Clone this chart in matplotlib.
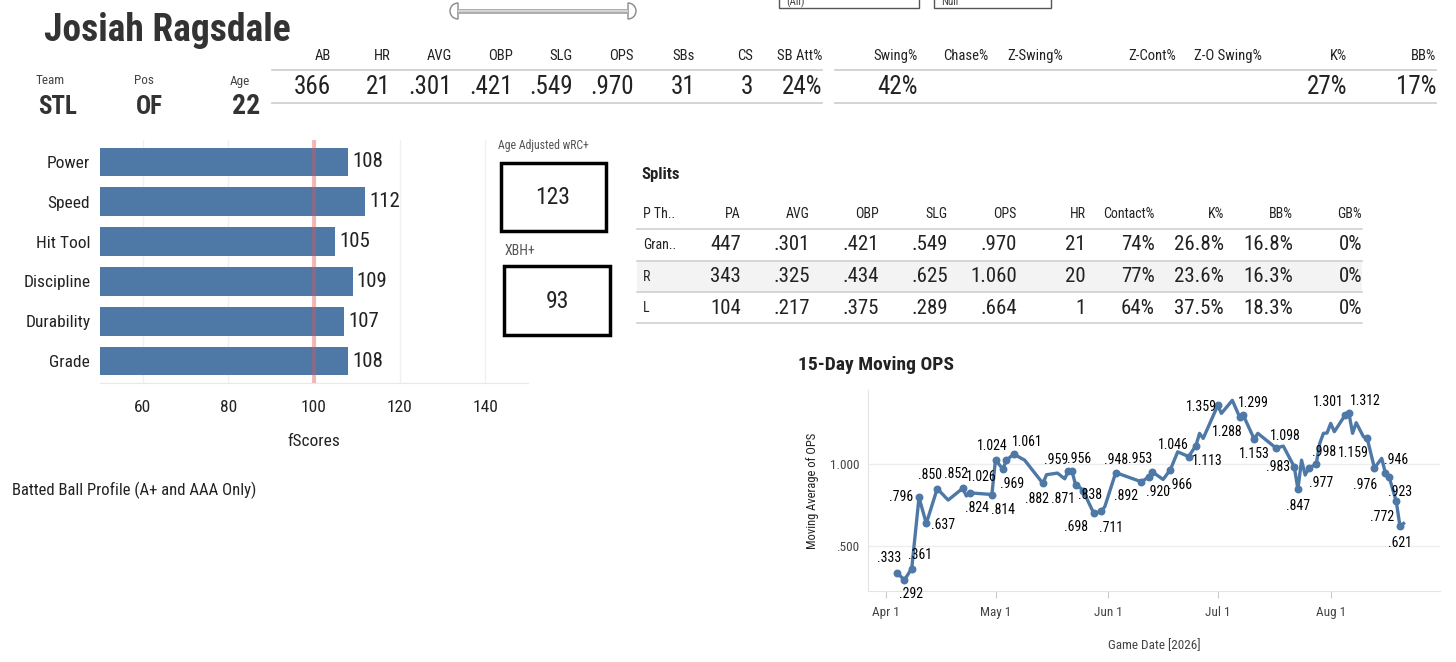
import matplotlib
matplotlib.use("Agg")
import matplotlib.pyplot as plt
import matplotlib.dates as mdates
from matplotlib import font_manager as fm
from matplotlib.patches import Rectangle, Wedge
import datetime as dt

# ------------------------------------------------------------
# Data
# ------------------------------------------------------------
player = "Josiah Ragsdale"
team, position, age = "STL", "OF", "22"

stat_cols = ["AB", "HR", "AVG", "OBP", "SLG", "OPS", "SBs", "CS", "SB Att%"]
stat_vals = ["366", "21", ".301", ".421", ".549", ".970", "31", "3", "24%"]

disc_cols = ["Swing%", "Chase%", "Z-Swing%", "Z-Cont%", "Z-O Swing%", "K%", "BB%"]
disc_vals = ["42%", "", "", "", "", "27%", "17%"]

tools = ["Power", "Speed", "Hit Tool", "Discipline", "Durability", "Grade"]
fscores = [108, 112, 105, 109, 107, 108]

age_adj_wrc = 123
xbh_plus = 93

split_cols = ["P Th..", "PA", "AVG", "OBP", "SLG", "OPS", "HR", "Contact%", "K%", "BB%", "GB%"]
split_hand = ["Gran..", "R", "L"]
split_pa = ["447", "343", "104"]
split_avg = [".301", ".325", ".217"]
split_obp = [".421", ".434", ".375"]
split_slg = [".549", ".625", ".289"]
split_ops = [".970", "1.060", ".664"]
split_hr = ["21", "20", "1"]
split_contact = ["74%", "77%", "64%"]
split_k = ["26.8%", "23.6%", "37.5%"]
split_bb = ["16.8%", "16.3%", "18.3%"]
split_gb = ["0%", "0%", "0%"]

# 15-day moving OPS (2026), estimated off the chart
game_dates = ["04-04", "04-06", "04-08", "04-10", "04-12", "04-15", "04-18", "04-22",
              "04-23", "04-24", "04-30", "05-01", "05-03", "05-04", "05-06", "05-09",
              "05-14", "05-15", "05-18", "05-20", "05-21", "05-22", "05-23", "05-24",
              "05-25", "05-28", "05-30", "05-31", "06-03", "06-10", "06-12", "06-13",
              "06-16", "06-18", "06-20", "06-23", "06-25", "06-26", "06-27", "07-01",
              "07-02", "07-05", "07-07", "07-08", "07-11", "07-12", "07-17", "07-19",
              "07-22", "07-23", "07-24", "07-25", "07-26", "07-28", "07-29", "07-30",
              "07-31", "08-01", "08-02", "08-05", "08-06", "08-07", "08-08", "08-10",
              "08-11", "08-13", "08-15", "08-16", "08-17", "08-19", "08-20", "08-21"]
moving_ops = [0.333, 0.292, 0.361, 0.796, 0.637, 0.850, 0.780, 0.852,
              0.805, 0.824, 0.814, 1.026, 0.969, 1.024, 1.061, 1.024,
              0.882, 0.935, 0.945, 0.910, 0.959, 0.956, 0.871, 0.860,
              0.838, 0.698, 0.711, 0.740, 0.948, 0.892, 0.920, 0.953,
              0.906, 0.966, 1.075, 1.046, 1.113, 1.188, 1.157, 1.359,
              1.310, 1.390, 1.288, 1.299, 1.153, 1.188, 1.098, 1.110,
              0.983, 0.847, 1.024, 0.933, 0.977, 0.998, 1.127, 1.188,
              1.190, 1.249, 1.198, 1.301, 1.312, 1.188, 1.253, 1.167,
              1.159, 0.976, 1.035, 0.946, 0.923, 0.772, 0.621, 0.637]
labeled = [1, 1, 1, 1, 1, 1, 0, 1,
           0, 1, 1, 1, 1, 1, 1, 0,
           1, 0, 0, 0, 1, 1, 1, 0,
           1, 1, 1, 0, 1, 1, 1, 1,
           0, 1, 0, 1, 1, 0, 0, 1,
           0, 0, 1, 1, 1, 0, 1, 0,
           1, 1, 0, 0, 1, 1, 0, 0,
           0, 0, 0, 1, 1, 0, 0, 0,
           1, 1, 0, 1, 1, 1, 1, 0]

# where each shown label sits relative to its point (offsets in points)
label_offsets = [
    (-6, 11), (5, -10), (6, 10), (-13, 0), (12, -1), (-5, 10), (-5, 10),   # .333 .. .852
    (5, -11), (8, -11), (-10, -12), (7, -11), (-10, 10), (10, 9),         # .824 .. 1.061
    (-4, -11), (-9, 8), (5, 9), (-9, -10),                                # .882 .. .871
    (5, -3), (-13, -10), (7, -12), (0, 9), (-11, -10), (7, -11), (-9, 9), # .838 .. .953
    (7, -11), (-11, 8), (8, -11), (-12, -1),                              # .966 .. 1.359
    (-9, -11), (7, 9), (0, -11), (7, 9),                                  # 1.288 .. 1.098
    (-12, 0), (0, -12), (9, -11), (6, 9),                                 # .983 .. .998
    (-12, 9), (12, 9),                                                    # 1.301 1.312
    (-10, -11), (-7, -12), (8, 9), (8, -11), (-10, -11), (0, -12),        # 1.159 .. .621
]

# ------------------------------------------------------------
# Style
# ------------------------------------------------------------
avail = {f.name for f in fm.fontManager.ttflist}
FONT = "DejaVu Sans"
for cand in ["Roboto Condensed", "Liberation Sans Narrow", "DejaVu Sans"]:
    if cand in avail:
        FONT = cand
        break
plt.rcParams["font.family"] = [FONT, "DejaVu Sans"]

BLUE = "#4e79a7"
TXT = "#222222"
GRID = "#e8e8e8"
W, H = 1456, 662

fig = plt.figure(figsize=(W / 100, H / 100), dpi=100)

# overlay axes in pixel coordinates for the dashboard furniture
ov = fig.add_axes([0, 0, 1, 1])
ov.set_xlim(0, W)
ov.set_ylim(H, 0)
ov.axis("off")


def rect(left, top, right, bottom):
    return [left / W, 1 - bottom / H, (right - left) / W, (bottom - top) / H]


# header
ov.text(44, 41, player, fontsize=27, fontweight="bold", color="#333333", va="baseline")

# slider + dropdowns (mostly cut off at the top)
ov.plot([458, 628], [11, 11], color="#aaaaaa", lw=3.5, solid_capstyle="butt")
ov.plot([458, 628], [11, 11], color="#dddddd", lw=1.2, solid_capstyle="butt")
ov.add_patch(Wedge((458, 11), 8, 90, 270, facecolor="white", edgecolor="#888888", lw=1))
ov.add_patch(Wedge((628, 11), 8, -90, 90, facecolor="white", edgecolor="#888888", lw=1))
ov.add_patch(Rectangle((779, -20), 140, 28, facecolor="white", edgecolor="#555555", lw=1))
ov.add_patch(Rectangle((934, -20), 117, 28, facecolor="white", edgecolor="#555555", lw=1))
ov.text(786, 5, "(All)", fontsize=8, color="#444444", va="baseline")
ov.text(941, 5, "Null", fontsize=8, color="#444444", va="baseline")

# team / pos / age
for x, lab, val in [(36, "Team", team), (134, "Pos", position), (230, "Age", age)]:
    ov.text(x, 81, lab, fontsize=9.5, color="#444444", va="center")
    ov.text(x + 2, 107, val, fontsize=18 if lab != "Age" else 20, fontweight="bold",
            color="#333333", va="center")

# batting line
stat_right = [331, 391, 452, 513, 573, 634, 695, 753, 822]
for x, c, v in zip(stat_right, stat_cols, stat_vals):
    ov.text(x, 56, c, fontsize=10.5, color=TXT, ha="right", va="center")
    ov.text(x, 87, v, fontsize=18, color=TXT, ha="right", va="center")
ov.plot([272, 822], [70, 70], color="#cccccc", lw=1.2)
ov.plot([272, 822], [103, 103], color="#cccccc", lw=1.2)

disc_right = [918, 988, 1063, 1176, 1262, 1347, 1436]
for x, c, v in zip(disc_right, disc_cols, disc_vals):
    ov.text(x, 56, c, fontsize=10.5, color=TXT, ha="right", va="center")
    if v:
        ov.text(x, 87, v, fontsize=18, color=TXT, ha="right", va="center")
ov.plot([835, 1436], [70, 70], color="#cccccc", lw=1.2)
ov.plot([835, 1436], [103, 103], color="#cccccc", lw=1.2)

# ------------------------------------------------------------
# fScores bars
# ------------------------------------------------------------
axb = fig.add_axes(rect(100, 140, 528, 383))
axb.set_facecolor("none")
ypos = list(range(len(tools)))
axb.barh(ypos, fscores, left=0, height=0.72, color=BLUE, zorder=2)
axb.axvline(100, color="#e15759", alpha=0.4, lw=3, zorder=3)
for y, v in zip(ypos, fscores):
    axb.text(v + 1, y, str(v), fontsize=15, color=TXT, va="center", ha="left")
axb.set_xlim(50, 150)
axb.set_ylim(len(tools) - 0.45, -0.55)
axb.set_yticks(ypos)
axb.set_yticklabels(tools, fontsize=12.5, color=TXT)
axb.set_xticks([60, 80, 100, 120, 140])
axb.tick_params(length=0, labelsize=12.5, labelcolor=TXT, pad=12)
axb.tick_params(axis="y", pad=7)
axb.grid(axis="x", color="#f0f0f0", lw=1, zorder=0)
for s in ["top", "right", "left"]:
    axb.spines[s].set_visible(False)
axb.spines["bottom"].set_color(GRID)
axb.set_xlabel("fScores", fontsize=12.5, color=TXT, labelpad=14)

ov.text(12, 490, "Batted Ball Profile (A+ and AAA Only)", fontsize=12, color=TXT, va="center")

# wRC+ / XBH+ boxes
ov.text(498, 146, "Age Adjusted wRC+", fontsize=8.5, color="#555555", va="center")
ov.add_patch(Rectangle((501, 163), 105, 68, facecolor="none", edgecolor="black", lw=2.5))
ov.text(553, 197, str(age_adj_wrc), fontsize=17, color=TXT, ha="center", va="center")
ov.text(505, 251, "XBH+", fontsize=10, color="#555555", va="center")
ov.add_patch(Rectangle((504, 266), 106, 69, facecolor="none", edgecolor="black", lw=2.5))
ov.text(557, 301, str(xbh_plus), fontsize=17, color=TXT, ha="center", va="center")

# ------------------------------------------------------------
# Splits table
# ------------------------------------------------------------
ov.text(641, 175, "Splits", fontsize=12, fontweight="bold", color=TXT, va="center")
split_right = [None, 741, 810, 879, 948, 1017, 1086, 1155, 1224, 1293, 1362]
split_body = [split_pa, split_avg, split_obp, split_slg, split_ops, split_hr,
              split_contact, split_k, split_bb, split_gb]
row_y = [245, 277, 308]
ov.add_patch(Rectangle((637, 261), 725, 31, facecolor="#f3f3f3", edgecolor="none"))
ov.text(643, 214, split_cols[0], fontsize=10, color=TXT, va="center")
for x, c in zip(split_right[1:], split_cols[1:]):
    ov.text(x, 214, c, fontsize=10, color=TXT, ha="right", va="center")
for i, y in enumerate(row_y):
    ov.text(643, y, split_hand[i], fontsize=10, color=TXT, va="center")
    for x, col in zip(split_right[1:], split_body):
        ov.text(x, y, col[i], fontsize=15, color=TXT, ha="right", va="center")
for y in [229, 261, 292, 323]:
    ov.plot([637, 1362], [y, y], color="#d0d0d0", lw=1.2)

# ------------------------------------------------------------
# 15-Day moving OPS
# ------------------------------------------------------------
ov.text(798, 365, "15-Day Moving OPS", fontsize=14, fontweight="bold", color=TXT, va="center")
axl = fig.add_axes(rect(868, 390, 1440, 591))
axl.set_facecolor("none")
dates = [dt.date(2026, int(d[:2]), int(d[3:])) for d in game_dates]
axl.plot(dates, moving_ops, color=BLUE, lw=2.4, zorder=3, solid_joinstyle="round")
lab_dates = [d for d, f in zip(dates, labeled) if f]
lab_vals = [v for v, f in zip(moving_ops, labeled) if f]
axl.scatter(lab_dates, lab_vals, s=22, color=BLUE, zorder=4)

for d, v, off in zip(lab_dates, lab_vals, label_offsets):
    txt = f"{v:.3f}"
    if v < 1:
        txt = txt[1:]
    axl.annotate(txt, (d, v), xytext=off, textcoords="offset points",
                 ha="center", va="center", fontsize=10, color="black", zorder=5)

axl.set_xlim(dt.date(2026, 3, 27), dt.date(2026, 8, 31))
axl.set_ylim(0.224, 1.453)
axl.set_yticks([0.5, 1.0])
axl.set_yticklabels([".500", "1.000"])
axl.xaxis.set_major_locator(mdates.MonthLocator())
axl.xaxis.set_major_formatter(mdates.DateFormatter("%b 1"))
axl.tick_params(axis="y", length=0, labelsize=9.5, labelcolor="#444444", pad=6)
axl.tick_params(axis="x", length=5, color="#cccccc", labelsize=9.5, labelcolor="#444444", pad=6)
axl.grid(axis="y", color="#eeeeee", lw=1)
for s in ["top", "right"]:
    axl.spines[s].set_visible(False)
for s in ["left", "bottom"]:
    axl.spines[s].set_color("#e3e3e3")
axl.set_ylabel("Moving Average of OPS", fontsize=9, color=TXT, labelpad=8)
axl.set_xlabel("Game Date [2026]", fontsize=9.5, color="#444444", labelpad=14)

fig.savefig("out.png", dpi=100)
